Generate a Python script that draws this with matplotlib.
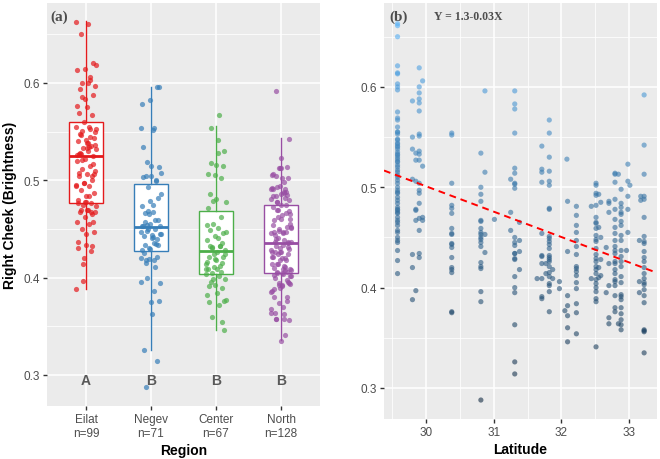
import matplotlib
matplotlib.use("Agg")
import matplotlib.pyplot as plt
import numpy as np
from matplotlib.colors import LinearSegmentedColormap

plt.rcParams['font.family'] = ['Liberation Sans', 'DejaVu Sans']

# brightness values, grouped by sampling latitude
eilat = [
    (29.58, [0.663, 0.661, 0.650, 0.621, 0.614, 0.613, 0.603, 0.600, 0.597, 0.575,
             0.569, 0.567, 0.560, 0.555, 0.555, 0.547, 0.543, 0.541, 0.540, 0.535,
             0.533, 0.532, 0.530, 0.528, 0.525, 0.522, 0.520, 0.515, 0.512, 0.510,
             0.507, 0.504, 0.500, 0.497, 0.495, 0.494, 0.490, 0.487, 0.484, 0.480,
             0.477, 0.475, 0.474, 0.470, 0.467, 0.465, 0.462, 0.457, 0.455, 0.450,
             0.447, 0.445, 0.437, 0.427, 0.414, 0.553, 0.538, 0.548, 0.517, 0.478,
             0.526, 0.544]),
    (29.80, [0.586, 0.550, 0.538, 0.508, 0.433, 0.420, 0.388]),
    (29.85, [0.534, 0.527, 0.506, 0.478, 0.477, 0.467, 0.397]),
    (29.90, [0.619, 0.600, 0.594, 0.588, 0.584, 0.576, 0.553, 0.551, 0.536, 0.533,
             0.527, 0.504, 0.497, 0.494, 0.484, 0.469, 0.457, 0.434, 0.430]),
    (29.95, [0.606, 0.521, 0.467, 0.470]),
]
negev = [
    (30.38, [0.554, 0.552, 0.504, 0.482, 0.479, 0.474, 0.459, 0.454, 0.453, 0.444,
             0.443, 0.440, 0.430, 0.420, 0.418, 0.415, 0.376, 0.375]),
    (30.81, [0.534, 0.500, 0.493, 0.486, 0.467, 0.466, 0.459, 0.455, 0.453, 0.450,
             0.448, 0.445, 0.441, 0.425, 0.421, 0.419, 0.396, 0.386, 0.288]),
    (30.87, [0.596, 0.515, 0.453, 0.435]),
    (31.01, [0.468]),
    (31.25, [0.508, 0.475, 0.457]),
    (31.31, [0.596, 0.583, 0.578, 0.554, 0.519, 0.514, 0.504, 0.503, 0.499, 0.450,
             0.445, 0.442, 0.434, 0.434, 0.429, 0.428, 0.411, 0.400, 0.395, 0.363,
             0.326, 0.314]),
    (31.38, [0.465, 0.447, 0.436, 0.418]),
]
center = [
    (31.64, [0.409]),
    (31.71, [0.541, 0.518, 0.515, 0.505, 0.454, 0.432, 0.431, 0.424, 0.409, 0.391, 0.389]),
    (31.77, [0.424, 0.414]),
    (31.82, [0.567, 0.554, 0.530, 0.516, 0.506, 0.502, 0.479, 0.478, 0.451, 0.449,
             0.446, 0.443, 0.439, 0.432, 0.430, 0.428, 0.426, 0.421, 0.415, 0.411,
             0.404, 0.402, 0.396, 0.376]),
    (31.87, [0.418, 0.409]),
    (31.97, [0.406, 0.399]),
    (32.05, [0.377]),
    (32.08, [0.528]),
    (32.09, [0.486, 0.436, 0.392, 0.382, 0.372, 0.360, 0.346]),
    (32.22, [0.481, 0.472, 0.462, 0.455, 0.447, 0.441, 0.433, 0.421, 0.419, 0.416,
             0.412, 0.405, 0.399, 0.384, 0.375, 0.354]),
]
north = [
    (32.44, [0.481, 0.409]),
    (32.51, [0.504, 0.502, 0.494, 0.492, 0.482, 0.470, 0.465, 0.464, 0.459, 0.452,
             0.448, 0.446, 0.439, 0.433, 0.429, 0.426, 0.421, 0.418, 0.414, 0.408,
             0.404, 0.400, 0.396, 0.389, 0.386, 0.341]),
    (32.55, [0.493, 0.460, 0.420, 0.410]),
    (32.58, [0.485, 0.450, 0.428, 0.412]),
    (32.66, [0.440, 0.395]),
    (32.70, [0.486, 0.484, 0.475, 0.424, 0.402, 0.370, 0.364]),
    (32.79, [0.514, 0.513, 0.505, 0.488, 0.478, 0.468, 0.460, 0.454, 0.447, 0.441,
             0.437, 0.434, 0.426, 0.424, 0.418, 0.414, 0.408, 0.406, 0.402, 0.392,
             0.380, 0.376]),
    (32.84, [0.513, 0.364]),
    (32.88, [0.498, 0.484, 0.480, 0.475, 0.473, 0.466, 0.462, 0.452, 0.447, 0.437,
             0.431, 0.426, 0.421, 0.411, 0.405, 0.393, 0.391, 0.388, 0.380, 0.374,
             0.368, 0.363, 0.358]),
    (32.96, [0.437]),
    (32.98, [0.523, 0.506, 0.491, 0.478, 0.455]),
    (33.01, [0.502]),
    (33.15, [0.447, 0.406, 0.395]),
    (33.17, [0.491, 0.487]),
    (33.22, [0.592, 0.542, 0.513, 0.491, 0.488, 0.470, 0.451, 0.446, 0.444, 0.436,
             0.430, 0.426, 0.420, 0.414, 0.409, 0.405, 0.403, 0.398, 0.392, 0.385,
             0.358, 0.357, 0.356, 0.335]),
]

regions = ['Eilat', 'Negev', 'Center', 'North']
counts = [99, 71, 67, 128]
letters = ['A', 'B', 'B', 'B']
colors = ['#E41A1C', '#377EB8', '#4DAF4A', '#984EA3']

# box statistics as drawn
q1 = [0.477, 0.427, 0.404, 0.405]
med = [0.525, 0.452, 0.427, 0.436]
q3 = [0.560, 0.496, 0.468, 0.475]
whislo = [0.388, 0.326, 0.346, 0.336]
whishi = [0.664, 0.596, 0.556, 0.543]

# regression line
fit_intercept = 1.260
fit_slope = -0.0253

groups = [eilat, negev, center, north]

fig = plt.figure(figsize=(6.6, 4.6), dpi=100)
ax1 = fig.add_axes([47 / 660, 1 - 407 / 460, 273 / 660, 403 / 460])
ax2 = fig.add_axes([384 / 660, 1 - 420 / 460, 273 / 660, 416 / 460])

for ax in (ax1, ax2):
    ax.set_facecolor('#EBEBEB')
    for s in ax.spines.values():
        s.set_visible(False)
    ax.grid(True, which='major', color='white', lw=1.1, zorder=0)
    ax.grid(True, which='minor', color='white', lw=0.55, zorder=0)
    ax.set_axisbelow(True)
    ax.tick_params(which='major', length=3, width=1, color='#333333',
                   labelcolor='#4D4D4D', labelsize=8.5, pad=2)
    ax.tick_params(which='minor', length=0)

# ---- panel (a)
pos = np.arange(1, 5)
stats = [dict(med=med[i], q1=q1[i], q3=q3[i], whislo=whislo[i],
              whishi=whishi[i], fliers=[]) for i in range(4)]
for i in range(4):
    ax1.bxp([stats[i]], positions=[pos[i]], widths=0.52, patch_artist=True,
            showcaps=False, showfliers=False,
            boxprops=dict(facecolor='white', edgecolor=colors[i], lw=1.0),
            whiskerprops=dict(color=colors[i], lw=1.0),
            medianprops=dict(color=colors[i], lw=2.0), zorder=2)
    vals = np.concatenate([v for _, v in groups[i]])
    n = len(vals)
    jit = ((np.arange(n) * 0.618034) % 1 - 0.5) * 0.32
    ax1.scatter(pos[i] + jit, vals, s=14, color=colors[i], alpha=0.7,
                linewidths=0, zorder=3)
    ax1.text(pos[i], 0.295, letters[i], ha='center', va='center',
             fontsize=10, fontweight='bold', color='#595959', zorder=4)

ax1.set_xlim(0.4, 4.6)
ax1.set_ylim(0.2681, 0.6822)
ax1.set_xticks(pos, [f'{r}\nn={c}' for r, c in zip(regions, counts)])
ax1.set_xticks([], minor=True)
ax1.set_yticks([0.3, 0.4, 0.5, 0.6])
ax1.set_yticks([0.35, 0.45, 0.55, 0.65], minor=True)
ax1.set_xlabel('Region', fontsize=10, fontweight='bold', labelpad=3)
ax1.set_ylabel('Right Cheek (Brightness)', fontsize=10, fontweight='bold', labelpad=5)
ax1.text(0.012, 0.968, '(a)', transform=ax1.transAxes, ha='left', va='center',
         fontsize=11, fontweight='bold', color='#4D4D4D', family='Liberation Serif')

# ---- panel (b)
lat = np.concatenate([[la] * len(v) for g in groups for la, v in g])
val = np.concatenate([v for g in groups for _, v in g])
cmap = LinearSegmentedColormap.from_list('gg', ['#132B43', '#56B1F7'])
ax2.scatter(lat, val, c=val, cmap=cmap, s=14, alpha=0.6, linewidths=0, zorder=3)
xs = np.array([29.38, 33.41])
ax2.axline((xs[0], fit_intercept + fit_slope * xs[0]), slope=fit_slope,
           color='red', lw=1.4, ls=(0, (3.5, 2.5)), zorder=4)
ax2.set_xlim(29.38, 33.41)
ax2.set_ylim(0.2691, 0.6836)
ax2.set_xticks([30, 31, 32, 33])
ax2.set_xticks([29.5, 30.5, 31.5, 32.5], minor=True)
ax2.set_yticks([0.3, 0.4, 0.5, 0.6])
ax2.set_yticks([0.35, 0.45, 0.55, 0.65], minor=True)
ax2.set_xlabel('Latitude', fontsize=10, fontweight='bold', labelpad=3)
ax2.text(0.018, 0.969, '(b)', transform=ax2.transAxes, ha='left', va='center',
         fontsize=11, fontweight='bold', color='#4D4D4D', family='Liberation Serif')
ax2.text(0.184, 0.969, 'Y = 1.3-0.03X', transform=ax2.transAxes, ha='left',
         va='center', fontsize=8.5, fontweight='bold', color='#4D4D4D',
         family='Liberation Serif')

fig.savefig('out.png', dpi=100)
